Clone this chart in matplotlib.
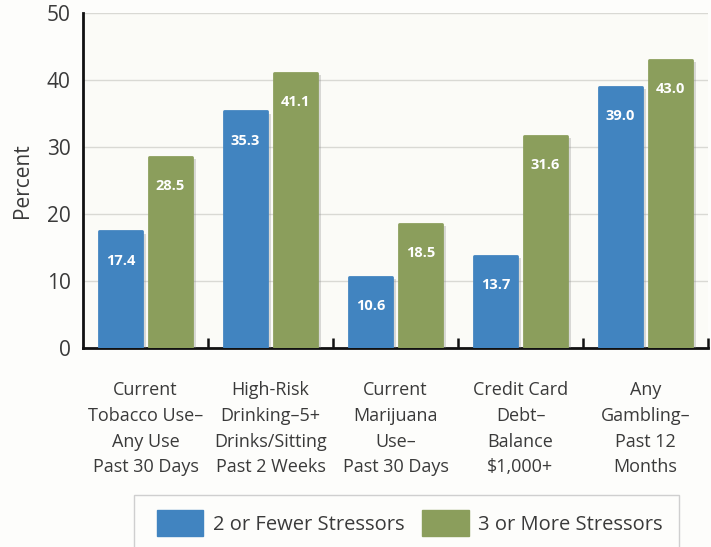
import matplotlib
matplotlib.use("Agg")
import matplotlib.pyplot as plt
import matplotlib.patheffects as pe
from matplotlib.patches import Rectangle, Patch
import numpy as np

plt.rcParams['font.family'] = ['Open Sans', 'DejaVu Sans']

categories = [
    "Current\nTobacco Use\u2013\nAny Use\nPast 30 Days",
    "High-Risk\nDrinking\u20135+\nDrinks/Sitting\nPast 2 Weeks",
    "Current\nMarijuana\nUse\u2013\nPast 30 Days",
    "Credit Card\nDebt\u2013\nBalance\n$1,000+",
    "Any\nGambling\u2013\nPast 12\nMonths",
]
fewer_stressors = [17.4, 35.3, 10.6, 13.7, 39.0]
more_stressors = [28.5, 41.1, 18.5, 31.6, 43.0]
series_names = ["2 or Fewer Stressors", "3 or More Stressors"]
yticks = [0, 10, 20, 30, 40, 50]

blue = "#4184c0"
green = "#8b9e5c"
text_gray = "#3a3a3a"

fig = plt.figure(figsize=(7.11, 5.47), dpi=100)
fig.patch.set_facecolor("#fdfdfb")
ax = fig.add_axes([83 / 711, 1 - 348 / 547, 625 / 711, 335 / 547])
ax.set_facecolor("#fbfbf7")

x = np.arange(len(categories))
w = 0.35
off = 0.2
shadow = [pe.withSimplePatchShadow(offset=(2.5, -1.5), shadow_rgbFace="#888888", alpha=0.3)]

for vals, dx, col in [(fewer_stressors, -off, blue), (more_stressors, off, green)]:
    bars = ax.bar(x + dx, vals, width=w, color=col, edgecolor=col, linewidth=2,
                  joinstyle="round", zorder=3)
    for b, v in zip(bars, vals):
        b.set_path_effects(shadow)
        ax.annotate(f"{v:.1f}", (b.get_x() + b.get_width() / 2, v),
                    xytext=(0, -21), textcoords="offset points",
                    ha="center", va="center", color="white",
                    fontsize=10.5, fontweight="bold", zorder=4)

ax.set_xlim(-0.5, len(categories) - 0.5)
ax.set_ylim(0, 50)
ax.set_yticks(yticks)
ax.set_yticklabels([str(t) for t in yticks], fontsize=15, color=text_gray)
ax.tick_params(axis="y", length=0, pad=9)
ax.yaxis.grid(True, color="#d9d9d4", linewidth=1, zorder=0)
ax.set_axisbelow(True)

ax.set_xticks(x)
ax.set_xticklabels(categories, fontsize=13, color=text_gray, linespacing=1.55)
ax.tick_params(axis="x", which="major", length=0, pad=24)
ax.set_xticks(np.arange(0.5, len(categories), 1.0), minor=True)
ax.tick_params(axis="x", which="minor", direction="in", length=7, width=1.8, color="#111111")

for s in ["top", "right"]:
    ax.spines[s].set_visible(False)
for s in ["left", "bottom"]:
    ax.spines[s].set_linewidth(2)
    ax.spines[s].set_color("#111111")

ax.set_ylabel("Percent", fontsize=15, color=text_gray, labelpad=10)

# legend box, open at the bottom edge of the figure
fig.patches.append(Rectangle((134 / 711, -0.05), (679 - 134) / 711, 0.05 + (547 - 495) / 547,
                             transform=fig.transFigure, fill=False,
                             edgecolor="#cfcfcf", linewidth=1))
handles = [Patch(facecolor=blue, edgecolor=blue), Patch(facecolor=green, edgecolor=green)]
fig.legend(handles, series_names, loc="center left",
           bbox_to_anchor=(139 / 711, 1 - 523 / 547), ncol=2, frameon=False,
           fontsize=14.5, handlelength=2.3, handleheight=1.6, handletextpad=0.45,
           columnspacing=0.9, labelcolor=text_gray)

fig.savefig("out.png", dpi=100, facecolor=fig.get_facecolor())
